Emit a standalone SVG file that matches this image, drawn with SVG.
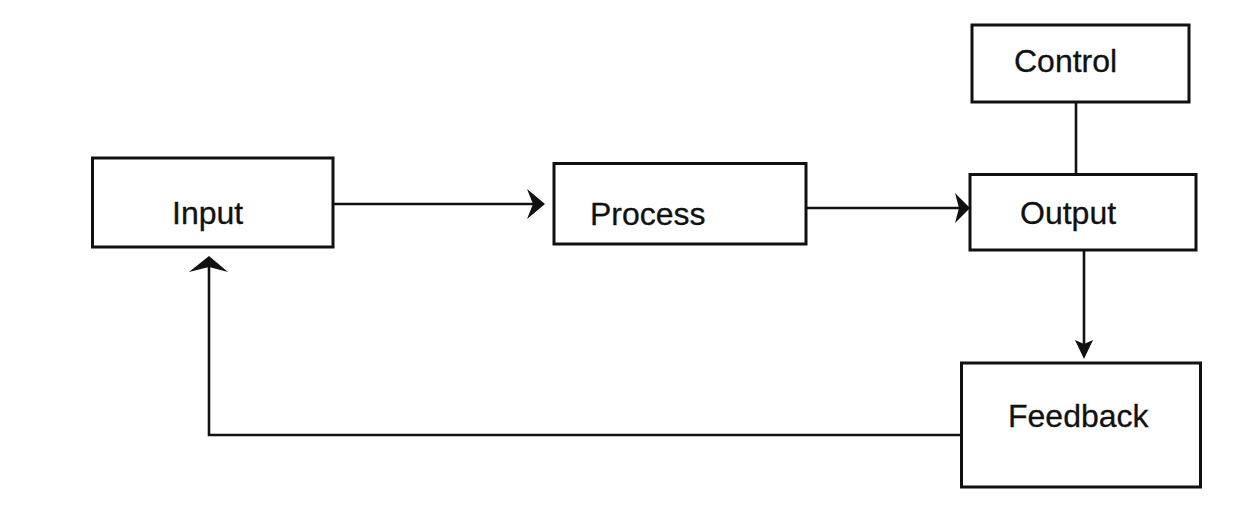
<svg xmlns="http://www.w3.org/2000/svg" width="1241" height="514" viewBox="0 0 1241 514">
  <style>
    .box { fill: #fff; stroke: #111; stroke-width: 3; }
    .lbl { font-family: "Liberation Sans", Arial, sans-serif; font-size: 32px; fill: #111; stroke: #111; stroke-width: 0.3; }
    .wire { fill: none; stroke: #111; stroke-width: 2.6; }
    .head { fill: #111; stroke: none; }
  </style>
  <rect width="1241" height="514" fill="#fff"/>

  <g id="connectors">
    <!-- Input to Process -->
    <line class="wire" x1="333" y1="204" x2="535" y2="204"/>
    <path class="head" d="M545,204 L527,189 L533,204 L527,219 Z"/>
    <!-- Process to Output -->
    <line class="wire" x1="806" y1="208" x2="962" y2="208"/>
    <path class="head" d="M970,208 L955,193 L959,208 L955,223 Z"/>
    <!-- Control to Output -->
    <line class="wire" x1="1076" y1="102" x2="1076" y2="174"/>
    <!-- Output to Feedback -->
    <line class="wire" x1="1084" y1="250" x2="1084" y2="350"/>
    <path class="head" d="M1084,359 L1075,340 L1084,344 L1093,340 Z"/>
    <!-- Feedback back to Input -->
    <polyline class="wire" points="961,435 209,435 209,266"/>
    <path class="head" d="M209,256 L189,272 L209,267 L228,272 Z"/>
  </g>

  <g id="input">
    <rect class="box" x="92.5" y="158" width="240.5" height="89"/>
    <text class="lbl" x="172" y="224">Input</text>
  </g>

  <g id="process">
    <rect class="box" x="554" y="163.5" width="252" height="80.5"/>
    <text class="lbl" x="590" y="225">Process</text>
  </g>

  <g id="control">
    <rect class="box" x="972" y="25" width="217" height="77"/>
    <text class="lbl" x="1014" y="72">Control</text>
  </g>

  <g id="output">
    <rect class="box" x="970" y="174.5" width="226" height="75.5"/>
    <text class="lbl" x="1020" y="224">Output</text>
  </g>

  <g id="feedback">
    <rect class="box" x="961.5" y="363" width="239" height="124"/>
    <text class="lbl" x="1008" y="427">Feedback</text>
  </g>
</svg>
